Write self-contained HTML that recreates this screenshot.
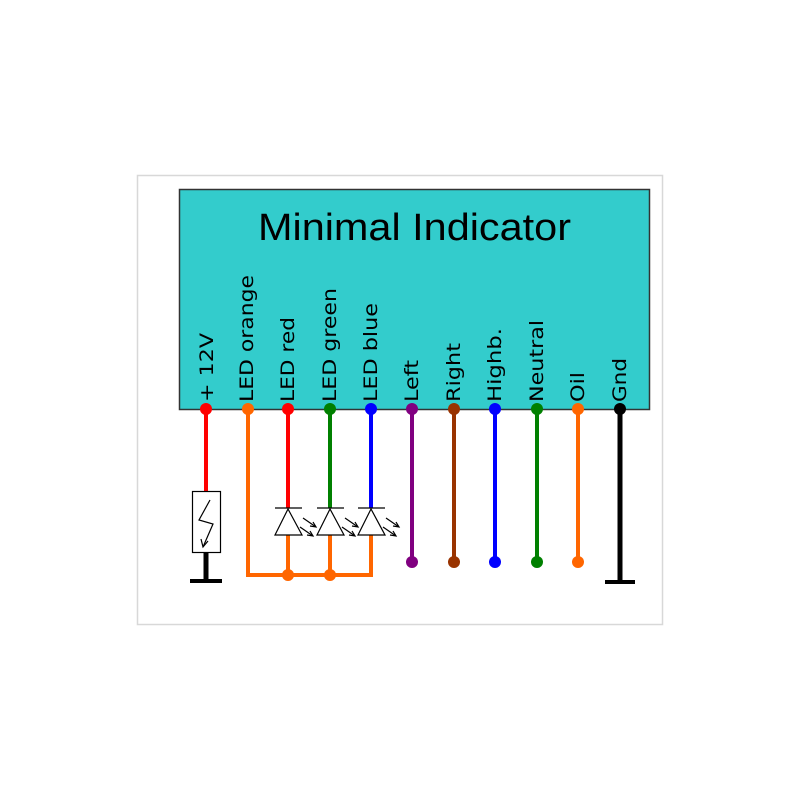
<!DOCTYPE html>
<html><head><style>body{margin:0;background:#fff}svg{display:block}</style></head><body>
<svg width="800" height="800" viewBox="0 0 800 800" xmlns="http://www.w3.org/2000/svg" font-family="DejaVu Sans, sans-serif">
<rect x="137.5" y="175.5" width="525" height="449" fill="#fff" stroke="#d8d8d8" stroke-width="1.5"/>
<rect x="179.5" y="189.5" width="470" height="220" fill="#33cccc" stroke="#333" stroke-width="1.5"/>
<text x="258" y="240" font-size="38" font-family="Liberation Sans, sans-serif" textLength="313" lengthAdjust="spacingAndGlyphs">Minimal Indicator</text>
<g font-size="19" fill="#000">
<text transform="translate(213,402) rotate(-90)" textLength="69" lengthAdjust="spacingAndGlyphs">+ 12V</text>
<text transform="translate(253,402) rotate(-90)" textLength="127" lengthAdjust="spacingAndGlyphs">LED orange</text>
<text transform="translate(294,402) rotate(-90)" textLength="85" lengthAdjust="spacingAndGlyphs">LED red</text>
<text transform="translate(336,402) rotate(-90)" textLength="114" lengthAdjust="spacingAndGlyphs">LED green</text>
<text transform="translate(377,402) rotate(-90)" textLength="99" lengthAdjust="spacingAndGlyphs">LED blue</text>
<text transform="translate(418,402) rotate(-90)" textLength="42" lengthAdjust="spacingAndGlyphs">Left</text>
<text transform="translate(460,402) rotate(-90)" textLength="59" lengthAdjust="spacingAndGlyphs">Right</text>
<text transform="translate(501,402) rotate(-90)" textLength="74" lengthAdjust="spacingAndGlyphs">Highb.</text>
<text transform="translate(543,402) rotate(-90)" textLength="82" lengthAdjust="spacingAndGlyphs">Neutral</text>
<text transform="translate(584,402) rotate(-90)" textLength="30" lengthAdjust="spacingAndGlyphs">Oil</text>
<text transform="translate(626,402) rotate(-90)" textLength="44" lengthAdjust="spacingAndGlyphs">Gnd</text>
</g>
<g stroke-width="4" fill="none">
<line x1="206" y1="409" x2="206" y2="492" stroke="#f00"/>
<line x1="206" y1="552" x2="206" y2="580" stroke="#000" stroke-width="5"/>
<line x1="190" y1="581" x2="222" y2="581" stroke="#000"/>
<polyline points="248,409 248,575 371,575 371,535" stroke="#ff6600"/>
<line x1="288" y1="535" x2="288" y2="575" stroke="#ff6600"/>
<line x1="330" y1="535" x2="330" y2="575" stroke="#ff6600"/>
<line x1="288" y1="409" x2="288" y2="508" stroke="#f00"/>
<line x1="330" y1="409" x2="330" y2="508" stroke="#008000"/>
<line x1="371" y1="409" x2="371" y2="508" stroke="#00f"/>
<line x1="412" y1="409" x2="412" y2="562" stroke="#800080"/>
<line x1="454" y1="409" x2="454" y2="562" stroke="#993300"/>
<line x1="495" y1="409" x2="495" y2="562" stroke="#00f"/>
<line x1="537" y1="409" x2="537" y2="562" stroke="#008000"/>
<line x1="578" y1="409" x2="578" y2="562" stroke="#ff6600"/>
<line x1="620" y1="409" x2="620" y2="581" stroke="#000" stroke-width="5"/>
<line x1="605" y1="582" x2="635" y2="582" stroke="#000"/>
</g>
<rect x="192.5" y="491.5" width="28" height="61" fill="#fff" stroke="#000" stroke-width="1.2"/>
<polyline points="210,500 199,520 213,524 203,547" fill="none" stroke="#000" stroke-width="1.2"/>
<polyline points="201,539 203,547 208,541" fill="none" stroke="#000" stroke-width="1.2"/>
<g stroke="#000" stroke-width="1.2" fill="#fff">
<g id="led">
<line x1="275" y1="508" x2="302" y2="508"/>
<polygon points="288,509 275,535 302,535"/>
<line x1="300" y1="527" x2="313" y2="536"/><polyline points="307,535 313,536 310,531" fill="none"/>
<line x1="303" y1="518" x2="316" y2="527"/><polyline points="310,526 316,527 313,522" fill="none"/>
</g>
<use href="#led" x="42"/>
<use href="#led" x="83"/>
</g>
<g>
<circle cx="206" cy="409" r="6" fill="#f00"/>
<circle cx="248" cy="409" r="6" fill="#ff6600"/>
<circle cx="288" cy="409" r="6" fill="#f00"/>
<circle cx="330" cy="409" r="6" fill="#008000"/>
<circle cx="371" cy="409" r="6" fill="#00f"/>
<circle cx="412" cy="409" r="6" fill="#800080"/>
<circle cx="454" cy="409" r="6" fill="#993300"/>
<circle cx="495" cy="409" r="6" fill="#00f"/>
<circle cx="537" cy="409" r="6" fill="#008000"/>
<circle cx="578" cy="409" r="6" fill="#ff6600"/>
<circle cx="620" cy="409" r="6" fill="#000"/>
<circle cx="412" cy="562" r="6" fill="#800080"/>
<circle cx="454" cy="562" r="6" fill="#993300"/>
<circle cx="495" cy="562" r="6" fill="#00f"/>
<circle cx="537" cy="562" r="6" fill="#008000"/>
<circle cx="578" cy="562" r="6" fill="#ff6600"/>
<circle cx="288" cy="575" r="6" fill="#ff6600"/>
<circle cx="330" cy="575" r="6" fill="#ff6600"/>
</g>
</svg>
</body></html>
